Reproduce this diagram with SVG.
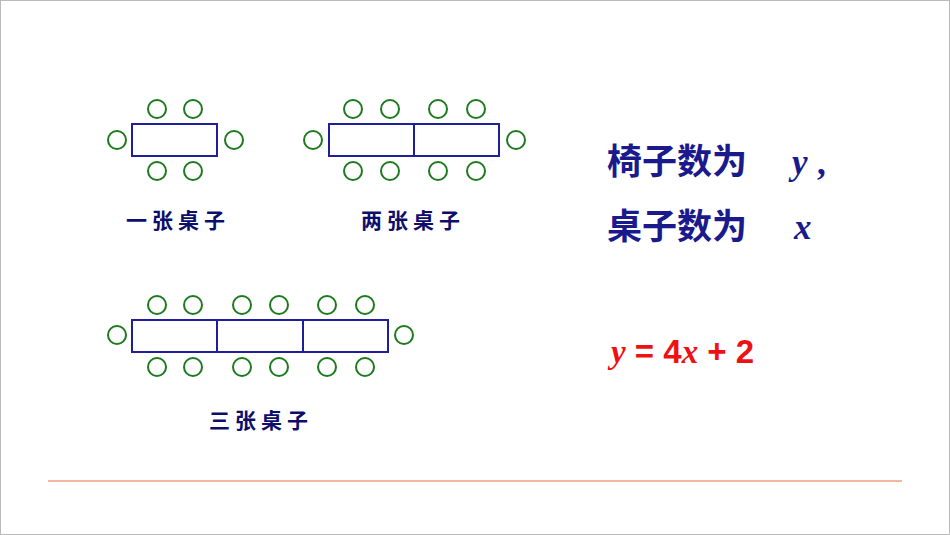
<svg xmlns="http://www.w3.org/2000/svg" width="950" height="535" viewBox="0 0 950 535">
<style>
.t{fill:none;stroke:#1f1f9a;stroke-width:2}
.c{fill:none;stroke:#1e7a1e;stroke-width:2}
.lb{font-family:"Noto Sans CJK SC",sans-serif;font-weight:bold;font-size:21px;fill:#0d0d6b;text-anchor:middle;letter-spacing:5px}
.rt{font-family:"Liberation Serif","Noto Sans CJK SC",serif;font-weight:bold;font-size:35px;fill:#1a1a8c}
.v{font-family:"Liberation Serif",serif;font-style:italic;font-weight:bold}
</style>
<rect x="0.5" y="0.5" width="949" height="534" fill="#fff" stroke="#bbb"/>
<g id="table1">
<rect class="t" x="132" y="124" width="85" height="32"/>
<circle class="c" cx="157" cy="109" r="9"/><circle class="c" cx="193" cy="109" r="9"/>
<circle class="c" cx="157" cy="171" r="9"/><circle class="c" cx="193" cy="171" r="9"/>
<circle class="c" cx="117" cy="140" r="9"/><circle class="c" cx="234" cy="140" r="9"/>
<text class="lb" x="178" y="228">一张桌子</text>
</g>
<g id="table2">
<rect class="t" x="329" y="124" width="170" height="32"/><line class="t" x1="414" y1="124" x2="414" y2="156"/>
<circle class="c" cx="353" cy="109" r="9"/><circle class="c" cx="390" cy="109" r="9"/><circle class="c" cx="438" cy="109" r="9"/><circle class="c" cx="476" cy="109" r="9"/>
<circle class="c" cx="353" cy="171" r="9"/><circle class="c" cx="390" cy="171" r="9"/><circle class="c" cx="438" cy="171" r="9"/><circle class="c" cx="476" cy="171" r="9"/>
<circle class="c" cx="313" cy="140" r="9"/><circle class="c" cx="516" cy="140" r="9"/>
<text class="lb" x="413" y="228">两张桌子</text>
</g>
<g id="table3">
<rect class="t" x="132" y="320" width="256" height="32"/><line class="t" x1="217" y1="320" x2="217" y2="352"/><line class="t" x1="303" y1="320" x2="303" y2="352"/>
<circle class="c" cx="157" cy="305" r="9"/><circle class="c" cx="193" cy="305" r="9"/><circle class="c" cx="242" cy="305" r="9"/><circle class="c" cx="279" cy="305" r="9"/><circle class="c" cx="327" cy="305" r="9"/><circle class="c" cx="365" cy="305" r="9"/>
<circle class="c" cx="157" cy="367" r="9"/><circle class="c" cx="193" cy="367" r="9"/><circle class="c" cx="242" cy="367" r="9"/><circle class="c" cx="279" cy="367" r="9"/><circle class="c" cx="327" cy="367" r="9"/><circle class="c" cx="365" cy="367" r="9"/>
<circle class="c" cx="117" cy="335" r="9"/><circle class="c" cx="404" cy="335" r="9"/>
<text class="lb" x="261" y="428">三张桌子</text>
</g>
<g id="texts">
<text class="rt" x="607" y="174">椅子数为</text>
<text class="rt v" x="792" y="174">y</text><text class="rt" x="817" y="174">,</text>
<text class="rt" x="607" y="239">桌子数为</text>
<text class="rt v" x="794" y="239">x</text>
<text x="611" y="363" font-family="Liberation Sans,sans-serif" font-weight="bold" font-size="33" fill="#ee1111"><tspan class="v">y</tspan> = 4<tspan class="v">x</tspan> + 2</text>
</g>
<line x1="48" y1="481" x2="902" y2="481" stroke="#f0a080" stroke-width="1.5"/>
</svg>
